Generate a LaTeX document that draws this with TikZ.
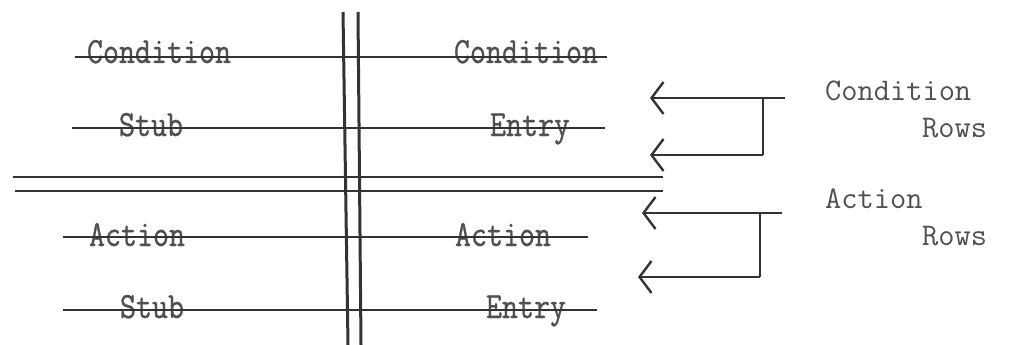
\documentclass[tikz,border=0pt]{standalone}
\usepackage{fontspec}
\usetikzlibrary{arrows.meta}
\newfontfamily\twfont{Latin Modern Mono}[FakeStretch=0.84,FakeBold=0.7]
\newfontfamily\lblfont{Latin Modern Mono}
\definecolor{ink}{HTML}{333333}
\definecolor{txt}{HTML}{505050}
\begin{document}
\begin{tikzpicture}[x=1pt,y=-1pt,
  tabtext/.style={inner sep=0pt,anchor=base,text=txt,font=\twfont\fontsize{37}{37}\selectfont},
  lbltext/.style={inner sep=0pt,anchor=base west,text=txt,font=\lblfont\fontsize{31.5}{31.5}\selectfont},
  rowline/.style={draw=ink,line width=1.4pt},
  sepline/.style={draw=ink,line width=1.9pt},
  colline/.style={draw=ink,line width=3pt},
  arr/.style={draw=ink,line width=2.4pt,-{Straight Barb[length=12pt,width=32pt,line width=2.4pt]}},
  brk/.style={draw=ink,line width=2pt}]
\useasboundingbox (0,0) rectangle (1013,345);
% texts
\node[tabtext] (cs1) at (159,63) {Condition};
\node[tabtext] (cs2) at (151,136) {Stub};
\node[tabtext] (as1) at (137,246) {Action};
\node[tabtext] (as2) at (152,318) {Stub};
\node[tabtext] (ce1) at (526,63) {Condition};
\node[tabtext] (ce2) at (530,136) {Entry};
\node[tabtext] (ae1) at (503,246) {Action};
\node[tabtext] (ae2) at (526,318) {Entry};
\node[lbltext] (cr1) at (825,100) {Condition};
\node[lbltext] (cr2) at (922,137) {Rows};
\node[lbltext] (ar1) at (825,208) {Action};
\node[lbltext] (ar2) at (922,245) {Rows};
% row lines
\coordinate (r1a) at (75,57);  \coordinate (r1b) at (607,57);
\coordinate (r2a) at (72,128); \coordinate (r2b) at (605,128);
\coordinate (r3a) at (63,237); \coordinate (r3b) at (588,237);
\coordinate (r4a) at (63,310); \coordinate (r4b) at (597,310);
\draw[rowline] (r1a) -- (r1b);
\draw[rowline] (r2a) -- (r2b);
\draw[rowline] (r3a) -- (r3b);
\draw[rowline] (r4a) -- (r4b);
% separator double line
\coordinate (s1a) at (13,177); \coordinate (s1b) at (663,177);
\coordinate (s2a) at (15,191); \coordinate (s2b) at (663,191);
\draw[sepline] (s1a) -- (s1b);
\draw[sepline] (s2a) -- (s2b);
% column double line
\coordinate (v1a) at (343,12); \coordinate (v1b) at (348,345);
\coordinate (v2a) at (358,12); \coordinate (v2b) at (361,345);
\draw[colline] (v1a) -- (v1b);
\draw[colline] (v2a) -- (v2b);
% condition rows bracket
\coordinate (ca0) at (785,98);  \coordinate (cj) at (763,98);
\coordinate (ct1) at (650,98);  \coordinate (cj2) at (763,155);
\coordinate (ct2) at (650,155);
\draw[arr] (ca0) -- (ct1);
\draw[brk] (cj) -- (cj2);
\draw[arr] (cj2) -- (ct2);
% action rows bracket
\coordinate (aa0) at (782,213); \coordinate (aj) at (760,213);
\coordinate (at1) at (642,213); \coordinate (aj2) at (760,277);
\coordinate (at2) at (638,277);
\draw[arr] (aa0) -- (at1);
\draw[brk] (aj) -- (aj2);
\draw[arr] (aj2) -- (at2);
\end{tikzpicture}
\end{document}
